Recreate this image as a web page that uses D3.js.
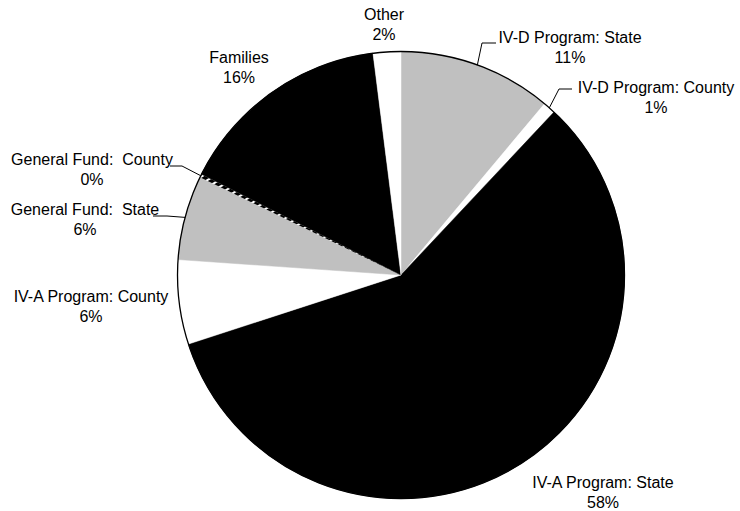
<!DOCTYPE html>
<html>
<head>
<meta charset="utf-8">
<script src="https://cdn.jsdelivr.net/npm/d3@7"></script>
<style>
  body { margin: 0; background: #fff; }
  text { font-family: "Liberation Sans", Arial, sans-serif; font-size: 16px; fill: #000; }
</style>
</head>
<body>
<svg width="740" height="511"></svg>
<script>
// slices, clockwise from 12 o'clock
var categories = ['IV-D Program: State', 'IV-D Program: County', 'IV-A Program: State',
                  'IV-A Program: County', 'General Fund:  State', 'General Fund:  County',
                  'Families', 'Other'];
var values = [11.1, 0.9, 58.0, 6.1, 6.1, 0.25, 15.55, 2.0];

// style per slice
var fills = ['#c0c0c0', '#fff', '#000', '#fff', '#c0c0c0', 'url(#hatch)', '#000', '#fff'];

// label layout: centre x, first baseline y, and leader elbow / end (null = no leader)
var labelX = [570, 656, 603, 91, 85, 92, 239, 384];
var labelY = [43, 93, 488, 302, 215, 165, 63, 20];
var leaders = [
    [[482, 43], [496, 43]],
    [[559, 89], [572, 89]],
    null,
    null,
    [[167, 216], [153, 216]],
    [[182, 166], [170, 166]],
    null,
    null
];

var cx = 401, cy = 275, r = 223.5;

var svg = d3.select('svg');

// diagonal hatch for the tiny slice
var pat = svg.append('defs').append('pattern')
    .attr('id', 'hatch')
    .attr('patternUnits', 'userSpaceOnUse')
    .attr('width', 6).attr('height', 6)
    .attr('patternTransform', 'rotate(60)');
pat.append('rect').attr('width', 6).attr('height', 6).attr('fill', '#000');
pat.append('rect').attr('width', 2).attr('height', 6).attr('fill', '#fff');

var total = d3.sum(values);
var data = categories.map(function (c, i) { return {name: c, value: values[i], i: i}; });

var pie = d3.pie().sort(null).value(function (d) { return d.value; });
var arc = d3.arc().innerRadius(0).outerRadius(r);
var arcs = pie(data);

var g = svg.append('g').attr('transform', 'translate(' + cx + ',' + cy + ')');

g.selectAll('path.slice')
    .data(arcs)
    .enter()
    .append('path')
    .attr('class', 'slice')
    .attr('d', arc)
    .attr('fill', function (d) { return fills[d.data.i]; })
    .attr('stroke', function (d) { return d.data.i === 5 ? 'none' : fills[d.data.i]; })
    .attr('stroke-width', 0.5);

g.append('circle')
    .attr('r', r)
    .attr('fill', 'none')
    .attr('stroke', '#000')
    .attr('stroke-width', 1.3);

// leader lines from slice edge midpoint
arcs.forEach(function (d) {
    var L = leaders[d.data.i];
    if (!L) return;
    var a = (d.startAngle + d.endAngle) / 2;
    var p0 = [cx + Math.sin(a) * r, cy - Math.cos(a) * r];
    svg.append('polyline')
        .attr('points', [p0, L[0], L[1]].map(function (p) { return p.join(','); }).join(' '))
        .attr('fill', 'none')
        .attr('stroke', '#000')
        .attr('stroke-width', 1);
});

var fmt = function (v) { return Math.round(v / total * 100) + '%'; };

var lab = svg.append('g').selectAll('text')
    .data(data)
    .enter()
    .append('text')
    .attr('text-anchor', 'middle')
    .attr('x', function (d) { return labelX[d.i]; })
    .attr('y', function (d) { return labelY[d.i]; });
lab.append('tspan').text(function (d) { return d.name; })
    .style('white-space', 'pre');
lab.append('tspan')
    .attr('x', function (d) { return labelX[d.i]; })
    .attr('dy', 19.5)
    .text(function (d) { return fmt(d.value); });
</script>
</body>
</html>
